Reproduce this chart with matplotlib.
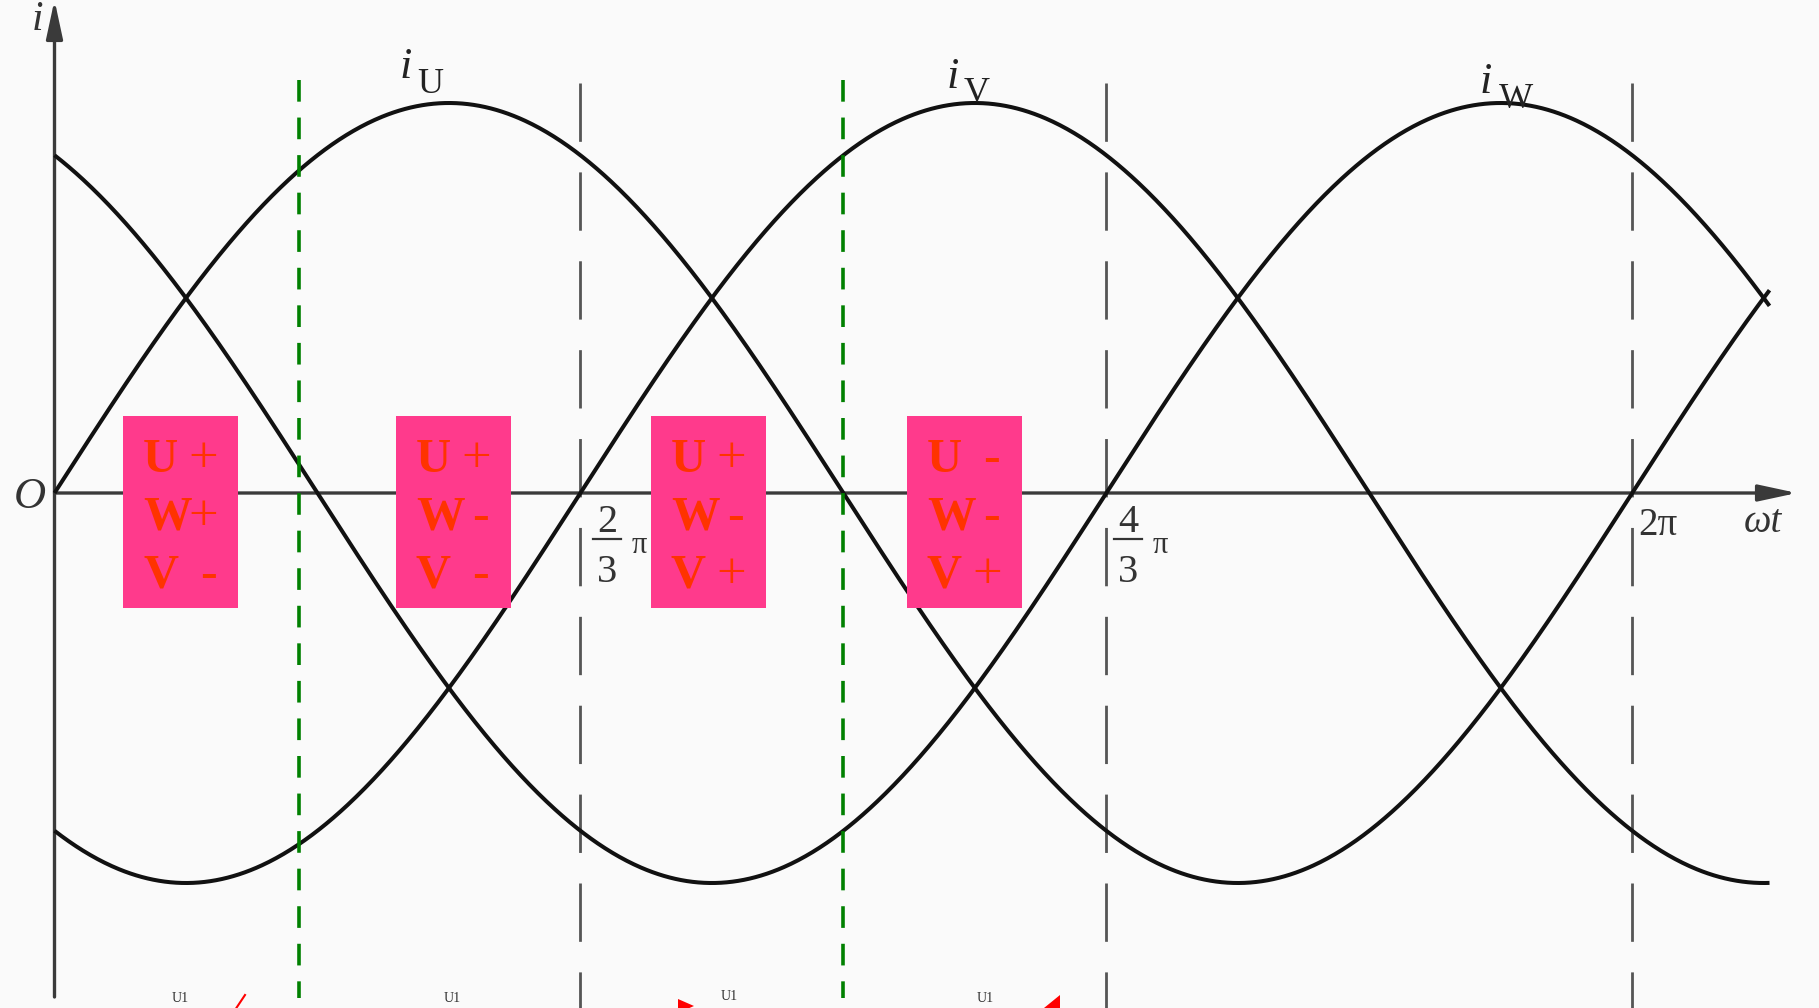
import numpy as np
import matplotlib.pyplot as plt
from matplotlib.patches import Rectangle, Polygon

W, H = 1819, 1008

# three phase currents: i = sin(wt + shift)
phase_names = ["U", "V", "W"]
phase_shift = [0.0, -2 * np.pi / 3, 2 * np.pi / 3]
wt_end = 6.83

# vertical marker lines (wt)
gray_lines = [2 * np.pi / 3, 4 * np.pi / 3, 2 * np.pi]
green_lines = [0.975, np.pi]

# switching state boxes (left edge in wt) and their texts
box_left = [0.273, 1.360, 2.375, 3.395]
box_letters = ["U", "W", "V"]
box_signs = [["+", "+", "-"],
             ["+", "-", "-"],
             ["+", "-", "+"],
             ["-", "-", "+"]]

# pixel <-> data mapping of the picture
X0, SX = 54.5, 251.1     # px of wt=0, px per rad
Y0, SY = 493.0, 390.0    # px of i=0, px per unit


def dx(px):
    return (px - X0) / SX


def dy(py):
    return (Y0 - py) / SY


def fp(px, py):
    return (px / W, 1 - py / H)


BG = "#fafafa"
INK = "#111111"
AXC = "#3a3a3a"
SERIF = ["Liberation Serif", "DejaVu Serif"]

fig = plt.figure(figsize=(W / 100, H / 100), dpi=100, facecolor=BG)
ax = fig.add_axes([0, 0, 1, 1])
ax.set_facecolor(BG)
ax.set_xlim(dx(0), dx(W))
ax.set_ylim(dy(H), dy(0))
ax.axis("off")

# curves
wt = np.linspace(0, wt_end, 1200)
for shift in phase_shift:
    ax.plot(wt, np.sin(wt + shift), color=INK, lw=2.9, zorder=3,
            solid_capstyle="butt")

# dashed markers
for x in gray_lines:
    ax.plot([x, x], [dy(83), dy(H + 5)], color="#555555", lw=2.0,
            ls=(0, (21, 11)), zorder=2)
for x in green_lines:
    ax.plot([x, x], [dy(80), dy(998)], color="#008000", lw=2.6,
            ls=(0, (6, 4.4)), zorder=4)

# axes with arrows
ax.annotate("", xy=(dx(1797), 0), xytext=(0, 0),
            arrowprops=dict(arrowstyle="-|>,head_length=1.3,head_width=0.28",
                            mutation_scale=18, color=AXC, lw=2.4,
                            shrinkA=0, shrinkB=0), zorder=2)
ax.annotate("", xy=(0, dy(0)), xytext=(0, dy(997)),
            arrowprops=dict(arrowstyle="-|>,head_length=1.3,head_width=0.28",
                            mutation_scale=18, color=AXC, lw=2.4,
                            shrinkA=0, shrinkB=0), zorder=2)

# boxes
bw = 115 / SX
for left, signs in zip(box_left, box_signs):
    ax.add_patch(Rectangle((left, dy(608)), bw, dy(416) - dy(608),
                           facecolor="#ff3a8c", edgecolor="none", zorder=5))
    for k, (letter, sign) in enumerate(zip(box_letters, signs)):
        base = dy(472 + 58 * k)
        ax.text(left + 20 / SX, base, letter, family=SERIF, weight="bold",
                fontsize=35, color="#ff3300", ha="left", va="baseline", zorder=6)
        if sign == "+":
            ax.text(left + 80 / SX, base, "+", family=SERIF, fontsize=38,
                    color="#ff3300", ha="center", va="baseline", zorder=6)
        else:
            ax.text(left + 85 / SX, base, "-", family=SERIF, weight="bold",
                    fontsize=36, color="#ff3300", ha="center", va="baseline", zorder=6)

# curve labels
label_px = [(406, 78, 430, 93), (953, 88, 977, 102), (1486, 93, 1516, 108)]
for name, (ix, iy, sx, sy) in zip(phase_names, label_px):
    fig.text(*fp(ix, iy), "i", family=SERIF, style="italic", fontsize=32,
             color="#222222", ha="center", va="baseline")
    fig.text(*fp(sx, sy), name, family=SERIF, fontsize=26,
             color="#222222", ha="center", va="baseline")

TXT = "#333333"
fig.text(*fp(37, 30), "i", family=SERIF, style="italic", fontsize=30,
         color=TXT, ha="center", va="baseline")
fig.text(*fp(30, 508), "O", family=SERIF, style="italic", fontsize=32,
         color=TXT, ha="center", va="baseline")
fig.text(*fp(1744, 532), "ωt", family=SERIF, style="italic", fontsize=28,
         color=TXT, ha="left", va="baseline")
fig.text(*fp(1638, 535), "2π", family=SERIF, fontsize=28,
         color=TXT, ha="left", va="baseline")

# fraction tick labels
for num, cx, pix in [("2", 607, 639), ("4", 1128, 1160)]:
    fig.text(*fp(cx, 532), num, family=SERIF, fontsize=29, color=TXT,
             ha="center", va="baseline")
    fig.text(*fp(cx, 582), "3", family=SERIF, fontsize=29, color=TXT,
             ha="center", va="baseline")
    fig.text(*fp(pix, 553), "π", family=SERIF, fontsize=22, color=TXT,
             ha="center", va="baseline")
    fig.add_artist(plt.Line2D([(cx - 14) / W, (cx + 14) / W],
                              [1 - 539 / H, 1 - 539 / H],
                              color=TXT, lw=1.6))

# small fragments along the bottom edge
for cx, top in [(180, 992), (452, 992), (729, 990), (985, 992)]:
    fig.text(*fp(cx, top), "U1", family=SERIF, fontsize=10, color="#333333",
             ha="center", va="top")
fig.add_artist(Polygon([fp(678, 999), fp(694, 1006), fp(678, 1013)],
                       closed=True, facecolor="red", edgecolor="none",
                       transform=fig.transFigure))
fig.add_artist(Polygon([fp(1060, 995), fp(1044, 1008), fp(1060, 1012)],
                       closed=True, facecolor="red", edgecolor="none",
                       transform=fig.transFigure))
fig.add_artist(plt.Line2D([245 / W, 235 / W], [1 - 995 / H, 1 - 1010 / H],
                          color="red", lw=1.5))

fig.savefig("out.png", dpi=100, facecolor=BG)
